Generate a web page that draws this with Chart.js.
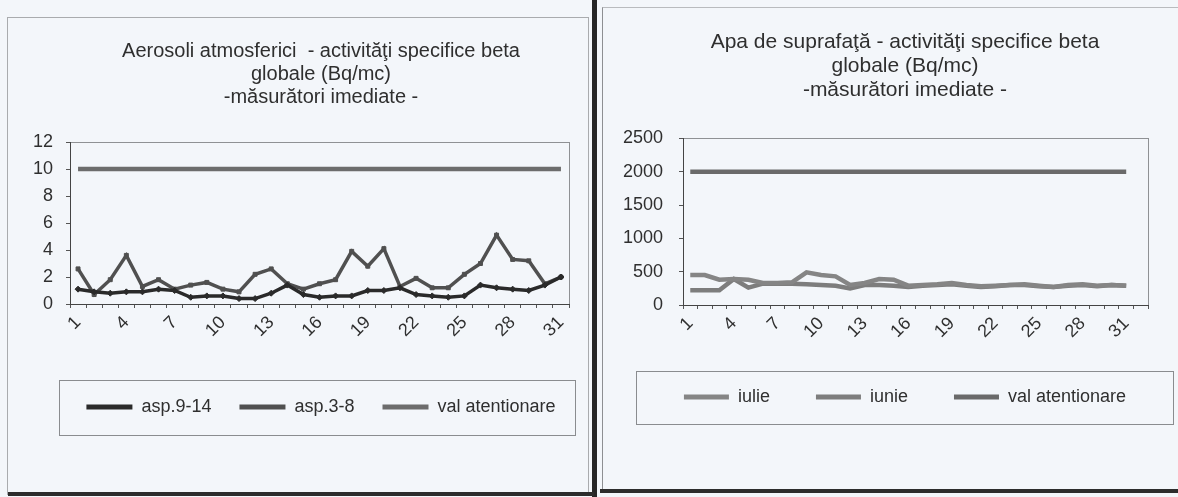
<!DOCTYPE html>
<html><head><meta charset="utf-8">
<script src="https://cdn.jsdelivr.net/npm/chart.js@4.4.1/dist/chart.umd.min.js"></script>
<style>
html,body{margin:0;padding:0;background:#f3f6fa;width:1178px;height:497px;overflow:hidden;position:relative;font-family:"Liberation Sans",Arial,sans-serif}
.fr{position:absolute;box-sizing:border-box}
#w1{position:absolute;left:26px;top:0;width:590px;height:497px}
#w2{position:absolute;left:611px;top:0;width:588px;height:497px}
</style></head><body>
<div class="fr" style="left:7px;top:17px;width:582px;height:478px;border:1px solid #a9abae"></div>
<div class="fr" style="left:602px;top:7px;width:580px;height:484px;border-left:1px solid #8d8f92;border-top:1px solid #b9bbbe"></div>
<div id="w1"><canvas id="c1" width="590" height="497"></canvas></div>
<div id="w2"><canvas id="c2" width="588" height="497"></canvas></div>
<div class="fr" style="left:592px;top:0;width:5px;height:497px;background:#262626"></div>
<div class="fr" style="left:8px;top:492px;width:586px;height:4px;background:#2c2c2c"></div>
<div class="fr" style="left:600px;top:489px;width:578px;height:4px;background:#2c2c2c"></div>
<script>
// ---- data: left chart (Aerosoli atmosferici) ----
const daysLeft = ['1','2','3','4','5','6','7','8','9','10','11','12','13','14','15','16','17','18','19','20','21','22','23','24','25','26','27','28','29','30','31'];
const asp914 = [1.1,0.9,0.8,0.9,0.9,1.1,1.0,0.5,0.6,0.6,0.4,0.4,0.8,1.4,0.7,0.5,0.6,0.6,1.0,1.0,1.2,0.7,0.6,0.5,0.6,1.4,1.2,1.1,1.0,1.4,2.0];
const asp38  = [2.6,0.7,1.8,3.6,1.3,1.8,1.1,1.4,1.6,1.1,0.9,2.2,2.6,1.5,1.1,1.5,1.8,3.9,2.8,4.1,1.3,1.9,1.2,1.2,2.2,3.0,5.1,3.3,3.2,1.5,2.0];
const valLeft = [10,10,10,10,10,10,10,10,10,10,10,10,10,10,10,10,10,10,10,10,10,10,10,10,10,10,10,10,10,10,10];
const yTicksLeft = [0,2,4,6,8,10,12];

// ---- data: right chart (Apa de suprafata) ----
const daysRight = ['1','2','3','4','5','6','7','8','9','10','11','12','13','14','15','16','17','18','19','20','21','22','23','24','25','26','27','28','29','30','31',''];
const iulie = [450,450,380,390,380,330,330,340,490,450,430,300,330,390,380,290,300,310,330,300,280,290,300,310,290,270,300,310,290,300,290];
const iunie = [220,220,220,390,260,320,320,320,310,300,290,250,300,300,290,270,290,300,310,290,270,280,300,300,280,270,290,300,280,300,290];
const valRight = [2000,2000,2000,2000,2000,2000,2000,2000,2000,2000,2000,2000,2000,2000,2000,2000,2000,2000,2000,2000,2000,2000,2000,2000,2000,2000,2000,2000,2000,2000,2000];
const yTicksRight = [0,500,1000,1500,2000,2500];

const FONT = '"Liberation Sans", Arial, sans-serif';
const TXT = '#2f2f2f';

const framePlugin = {
  id: 'frames',
  beforeDraw(chart, args, o) {
    const {ctx, chartArea: a} = chart;
    ctx.save();
    ctx.strokeStyle = o.plotBorder; ctx.lineWidth = 1;
    ctx.strokeRect(Math.round(a.left)+0.5, Math.round(a.top)+0.5, Math.round(a.right-a.left), Math.round(a.bottom-a.top));
    ctx.restore();
  },
  afterDraw(chart, args, o) {
    const {ctx} = chart;
    const hb = chart.legend && chart.legend.legendHitBoxes;
    if (!hb || !hb.length) return;
    const last = hb[hb.length-1];
    const l = hb[0].left - o.padL, r = last.left + last.width + o.padR;
    const cy = hb[0].top + hb[0].height/2;
    ctx.save();
    ctx.strokeStyle = o.legendBorder; ctx.lineWidth = 1;
    ctx.strokeRect(Math.round(l)+0.5, Math.round(cy - o.up)+0.5, Math.round(r-l), Math.round(o.up + o.down));
    ctx.restore();
  }
};

function legendLabels(chart) {
  const items = Chart.defaults.plugins.legend.labels.generateLabels(chart);
  items.forEach(i => { i.fillStyle = i.strokeStyle; i.lineWidth = 0; });
  return items;
}

function makeChart(id, cfg) {
  return new Chart(document.getElementById(id), {
    type: 'line',
    data: { labels: cfg.labels, datasets: cfg.datasets },
    plugins: [framePlugin],
    options: {
      responsive: false, animation: false, devicePixelRatio: 1,
      layout: { padding: cfg.pad },
      elements: { line: { tension: 0 } },
      plugins: {
        frames: cfg.frames,
        tooltip: { enabled: false },
        title: {
          display: true, text: cfg.title, color: TXT,
          font: { family: FONT, size: cfg.titleSize, weight: 'normal', lineHeight: 1.15 },
          padding: cfg.titlePad
        },
        legend: {
          position: 'bottom',
          labels: {
            color: TXT, font: { family: FONT, size: 18 },
            boxWidth: cfg.boxWidth, boxHeight: 5, padding: cfg.legendPad,
            generateLabels: legendLabels
          }
        }
      },
      scales: {
        x: {
          offset: true,
          grid: { display: true, drawOnChartArea: false, offset: true, tickLength: 4, color: '#555' },
          border: { display: true, color: '#444', width: 1 },
          ticks: {
            autoSkip: false, minRotation: 45, maxRotation: 45, padding: 4, color: TXT,
            font: { family: FONT, size: 18 },
            callback: function(v, i) { return i % 3 === 0 ? this.getLabelForValue(v) : ''; }
          },
          afterFit(s) { s.height = cfg.xHeight; s.paddingLeft = 0; s.paddingRight = 0; }
        },
        y: {
          min: cfg.yTicks[0], max: cfg.yTicks[cfg.yTicks.length-1],
          afterBuildTicks(s) { s.ticks = cfg.yTicks.map(v => ({ value: v })); },
          grid: { display: true, drawOnChartArea: false, tickLength: 4, color: '#555' },
          border: { display: true, color: '#444', width: 1 },
          ticks: { autoSkip: false, padding: cfg.yPad, color: TXT, font: { family: FONT, size: 18 },
                   callback: v => String(v) },
          afterFit(s) { s.width = cfg.yWidth; s.paddingTop = 0; s.paddingBottom = 0; }
        },
        yR: {
          position: 'right', display: true,
          grid: { display: false }, border: { display: false }, ticks: { display: false },
          afterFit(s) { s.width = cfg.rightWidth; s.paddingTop = 0; s.paddingBottom = 0; }
        }
      }
    }
  });
}

makeChart('c1', {
  labels: daysLeft,
  title: ['Aerosoli atmosferici  - activităţi specifice beta', 'globale (Bq/mc)', '-măsurători imediate -'],
  titleSize: 20, titlePad: { top: 20, bottom: 33 },
  pad: { left: 0, right: 0, top: 20, bottom: 71 },
  xHeight: 66, yWidth: 44, rightWidth: 47, yPad: 13, yTicks: yTicksLeft,
  boxWidth: 46, legendPad: 28,
  frames: { plotBorder: '#8f9194', legendBorder: '#8a8c8f', padL: 27, padR: 20, up: 27, down: 28 },
  datasets: [
    { label: 'asp.9-14', data: asp914, borderColor: '#2a2a2a', backgroundColor: '#2a2a2a', borderWidth: 3.5,
      pointStyle: 'rectRot', pointRadius: 3, pointBorderWidth: 1 },
    { label: 'asp.3-8', data: asp38, borderColor: '#505050', backgroundColor: '#505050', borderWidth: 3.5,
      pointStyle: 'rect', pointRadius: 2.8, pointBorderWidth: 1 },
    { label: 'val atentionare', data: valLeft, borderColor: '#6c6c6c', backgroundColor: '#6c6c6c', borderWidth: 4.5,
      pointRadius: 0 }
  ]
});

makeChart('c2', {
  labels: daysRight,
  title: ['Apa de suprafaţă - activităţi specifice beta', 'globale (Bq/mc)', '-măsurători imediate -'],
  titleSize: 21, titlePad: { top: 20, bottom: 36 },
  pad: { left: 0, right: 0, top: 10, bottom: 81 },
  xHeight: 37, yWidth: 72, rightWidth: 51, yPad: 16, yTicks: yTicksRight,
  boxWidth: 45, legendPad: 46,
  frames: { plotBorder: '#8f9194', legendBorder: '#8a8c8f', padL: 48, padR: 47, up: 26, down: 27 },
  datasets: [
    { label: 'iulie', data: iulie, borderColor: '#858585', backgroundColor: '#858585', borderWidth: 4.5, pointRadius: 0 },
    { label: 'iunie', data: iunie, borderColor: '#7d7d7d', backgroundColor: '#7d7d7d', borderWidth: 4.5, pointRadius: 0 },
    { label: 'val atentionare', data: valRight, borderColor: '#6a6a6a', backgroundColor: '#6a6a6a', borderWidth: 4.5, pointRadius: 0 }
  ]
});
</script>
</body></html>
